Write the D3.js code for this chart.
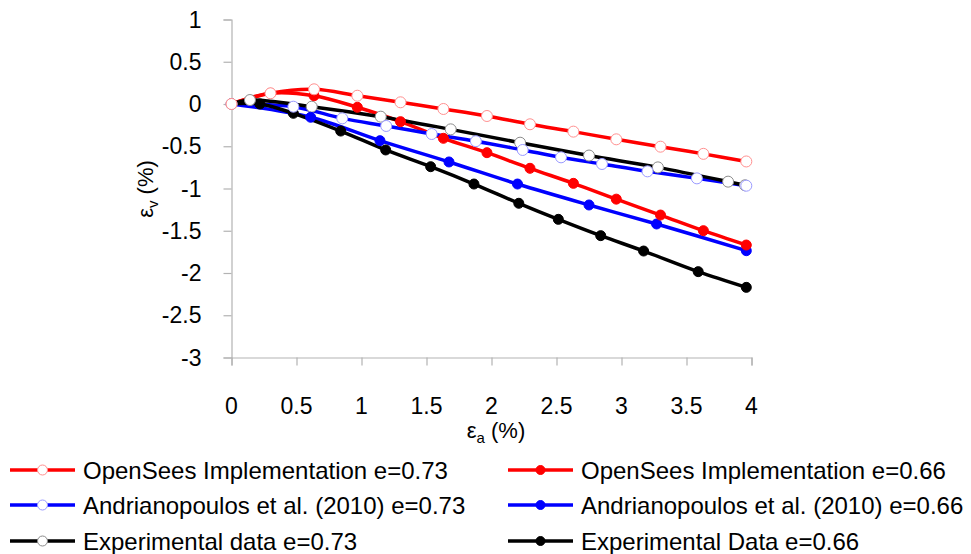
<!DOCTYPE html>
<html>
<head>
<meta charset="utf-8">
<script src="https://cdn.jsdelivr.net/npm/d3@7"></script>
<style>
  body { margin: 0; background: #fff; }
  svg { font-family: "Liberation Sans", Arial, sans-serif; }
</style>
</head>
<body>
<div id="chart"></div>
<script>
// strain data (axial % vs volumetric %)
const xOsOpen = [0, 0.30, 0.635, 0.968, 1.30, 1.63, 1.965, 2.296, 2.63, 2.96, 3.30, 3.63, 3.96];
const yOsOpen = [0, 0.127, 0.174, 0.098, 0.02, -0.059, -0.142, -0.24, -0.327, -0.418, -0.505, -0.59, -0.68];
const xOsFill = [0, 0.30, 0.635, 0.968, 1.30, 1.63, 1.965, 2.296, 2.63, 2.96, 3.30, 3.63, 3.96];
const yOsFill = [0, 0.127, 0.098, -0.039, -0.209, -0.406, -0.576, -0.761, -0.939, -1.126, -1.314, -1.499, -1.669];
const xAnOpen = [0, 0.476, 0.852, 1.19, 1.54, 1.88, 2.24, 2.535, 2.85, 3.20, 3.58, 3.96];
const yAnOpen = [0, -0.032, -0.17, -0.26, -0.355, -0.44, -0.544, -0.631, -0.71, -0.797, -0.88, -0.967];
const xAnFill = [0, 0.609, 1.142, 1.673, 2.2, 2.75, 3.27, 3.96];
const yAnFill = [0, -0.157, -0.434, -0.686, -0.947, -1.195, -1.42, -1.736];
const xExOpen = [0, 0.142, 0.617, 1.148, 1.686, 2.22, 2.75, 3.28, 3.82, 3.95];
const yExOpen = [0, 0.047, -0.032, -0.15, -0.30, -0.458, -0.61, -0.75, -0.919, -0.962];
const xExFill = [0, 0.219, 0.476, 0.84, 1.186, 1.532, 1.865, 2.21, 2.514, 2.84, 3.17, 3.59, 3.96];
const yExFill = [0, 0.0, -0.11, -0.32, -0.544, -0.742, -0.947, -1.175, -1.365, -1.558, -1.74, -1.984, -2.17];

const xTicks = [0, 0.5, 1, 1.5, 2, 2.5, 3, 3.5, 4];
const yTicks = [1, 0.5, 0, -0.5, -1, -1.5, -2, -2.5, -3];

const seriesNames = [
    "OpenSees Implementation e=0.73", "OpenSees Implementation e=0.66",
    "Andrianopoulos et al. (2010) e=0.73", "Andrianopoulos et al. (2010) e=0.66",
    "Experimental data e=0.73", "Experimental Data e=0.66"
];

const series = [
    { name: seriesNames[0], xs: xOsOpen, ys: yOsOpen, color: "#ff0000", edge: "#ff9090", open: true },
    { name: seriesNames[1], xs: xOsFill, ys: yOsFill, color: "#ff0000", edge: "#ff0000", open: false },
    { name: seriesNames[2], xs: xAnOpen, ys: yAnOpen, color: "#0000ff", edge: "#9a9aff", open: true },
    { name: seriesNames[3], xs: xAnFill, ys: yAnFill, color: "#0000ff", edge: "#0000ff", open: false },
    { name: seriesNames[4], xs: xExOpen, ys: yExOpen, color: "#000000", edge: "#8c8c8c", open: true },
    { name: seriesNames[5], xs: xExFill, ys: yExFill, color: "#000000", edge: "#000000", open: false }
];

const width = 971, height = 554;
const margin = { top: 19.5, left: 231.5, right: 219.5, bottom: 196.5 };
const plotW = width - margin.left - margin.right;
const plotH = height - margin.top - margin.bottom;
const axisColor = "#b3b3b3";

const svg = d3.select("#chart").append("svg")
    .attr("width", width)
    .attr("height", height);

const x = d3.scaleLinear().domain([0, 4]).range([0, plotW]);
const y = d3.scaleLinear().domain([-3, 1]).range([plotH, 0]);

const g = svg.append("g").attr("transform", `translate(${margin.left},${margin.top})`);

// axes
const xAxis = g.append("g")
    .attr("transform", `translate(0,${plotH})`)
    .call(d3.axisBottom(x).tickValues(xTicks).tickSize(8).tickFormat(""));
const yAxis = g.append("g")
    .call(d3.axisLeft(y).tickValues(yTicks).tickSize(8).tickFormat(""));
[xAxis, yAxis].forEach(a => {
    a.select(".domain").attr("stroke", axisColor).attr("stroke-width", 1.2);
    a.selectAll(".tick line").attr("stroke", axisColor).attr("stroke-width", 1.2);
});

g.selectAll(".xlab").data(xTicks).enter().append("text")
    .attr("x", d => x(d))
    .attr("y", plotH + 56.5)
    .attr("text-anchor", "middle")
    .attr("font-size", 23)
    .text(d => d);

g.selectAll(".ylab").data(yTicks).enter().append("text")
    .attr("x", -30)
    .attr("y", d => y(d) + 8)
    .attr("text-anchor", "end")
    .attr("font-size", 23)
    .text(d => d);

// axis titles
const xt = svg.append("text")
    .attr("x", 496).attr("y", 438)
    .attr("text-anchor", "middle")
    .attr("font-size", 22);
xt.append("tspan").text("ε");
xt.append("tspan").attr("font-size", 15).attr("dy", 5).text("a");
xt.append("tspan").attr("dy", -5).text(" (%)");

const yt = svg.append("text")
    .attr("transform", "translate(153,189) rotate(-90)")
    .attr("text-anchor", "middle")
    .attr("font-size", 22);
yt.append("tspan").text("ε");
yt.append("tspan").attr("font-size", 15).attr("dy", 5).text("v");
yt.append("tspan").attr("dy", -5).text(" (%)");

// lines
const line = d3.line()
    .x(d => x(d[0]))
    .y(d => y(d[1]))
    .curve(d3.curveCatmullRom.alpha(0.5));

series.forEach(s => {
    const pts = s.xs.map((v, i) => [v, s.ys[i]]);
    g.append("path")
        .datum(pts)
        .attr("fill", "none")
        .attr("stroke", s.color)
        .attr("stroke-width", 3.5)
        .attr("stroke-linejoin", "round")
        .attr("d", line);
});

// markers: drawn after all lines, last series at the bottom
const markerOrder = [5, 4, 3, 2, 1, 0];
markerOrder.forEach(k => {
    const s = series[k];
    const pts = s.xs.map((v, i) => [v, s.ys[i]]);
    g.append("g").selectAll("circle").data(pts).enter().append("circle")
        .attr("cx", d => x(d[0]))
        .attr("cy", d => y(d[1]))
        .attr("r", s.open ? 5.5 : 5)
        .attr("fill", s.open ? "#fff" : s.color)
        .attr("stroke", s.edge)
        .attr("stroke-width", 1);
});

// legend
const legend = svg.append("g");
const colX = [10, 508];
const rowY = [470, 505, 541];
series.forEach((s, i) => {
    const lx = colX[i % 2], ly = rowY[Math.floor(i / 2)];
    const item = legend.append("g").attr("transform", `translate(${lx},${ly})`);
    item.append("line")
        .attr("x1", 0).attr("x2", 65)
        .attr("y1", 0).attr("y2", 0)
        .attr("stroke", s.color)
        .attr("stroke-width", 3.5);
    item.append("circle")
        .attr("cx", 32.5).attr("cy", 0)
        .attr("r", s.open ? 5 : 4.5)
        .attr("fill", s.open ? "#fff" : s.color)
        .attr("stroke", s.edge)
        .attr("stroke-width", 1);
    item.append("text")
        .attr("x", 73).attr("y", 8.5)
        .attr("font-size", 24)
        .text(s.name);
});
</script>
</body>
</html>
